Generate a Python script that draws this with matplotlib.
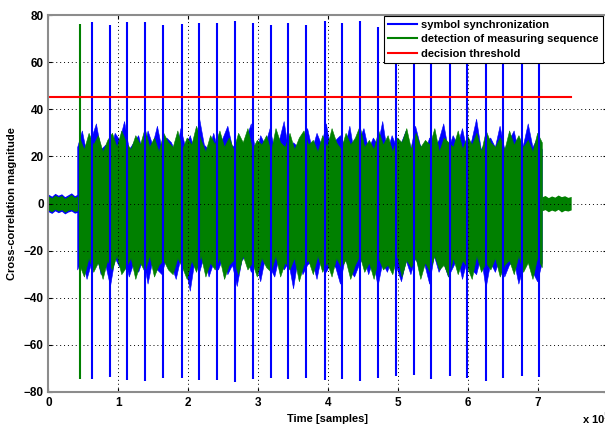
import numpy as np
import matplotlib
matplotlib.use("Agg")
import matplotlib.pyplot as plt

plt.rcParams['font.family'] = ['Liberation Sans', 'DejaVu Sans']

# ---- data (x in units of 1e5 samples) ----
sync_spike_x = [0.623, 0.880, 1.124, 1.382, 1.639, 1.911, 2.155, 2.408, 2.670, 2.923,
                3.181, 3.433, 3.691, 3.954, 4.206, 4.464, 4.722, 4.975, 5.228, 5.480,
                5.744, 5.996, 6.259, 6.511, 6.775, 7.026]
sync_spike_top = [77.2, 75.8, 77.0, 77.2, 75.6, 76.2, 76.5, 76.5, 77.3, 76.5,
                  75.6, 76.5, 75.8, 77.3, 76.5, 77.3, 75.1, 76.5, 77.0, 76.0,
                  76.5, 77.0, 76.0, 76.5, 77.0, 75.5]
sync_spike_bot = [-74.6, -73.8, -75.0, -75.3, -74.2, -74.2, -74.9, -74.9, -75.6, -74.5,
                  -73.9, -74.5, -74.2, -74.9, -74.5, -75.2, -73.9, -73.1, -72.8, -74.5,
                  -73.2, -74.2, -75.3, -74.2, -73.1, -73.5]

meas_spike_x = 0.455
meas_spike_top = 76.2
meas_spike_bot = -74.6

threshold = 45.0
threshold_span = [0.0, 7.48]

# idle noise before / after the frame
pre_span = [0.0, 0.42]
post_span = [7.06, 7.48]
pre_upper = [3.2, 2.4, 3.6, 2.8, 3.4, 2.2, 3.0, 3.8, 2.6, 3.3]
pre_lower = [-2.8, -3.5, -2.4, -3.2, -2.6, -3.7, -2.9, -2.5, -3.4, -3.0]
post_upper = [2.8, 3.4, 2.5, 3.2, 2.7, 3.6, 2.9, 3.3, 2.6, 3.0]
post_lower = [-3.1, -2.6, -3.5, -2.8, -3.3, -2.5, -3.6, -2.9, -3.2, -2.7]

# noise envelope during the frame
band_span = [0.44, 7.06]
green_upper = [28, 23, 30, 25, 29, 22, 27, 30, 24, 31, 26, 23, 29, 25, 32, 24, 28, 22, 30, 26,
               24, 31, 23, 28, 25, 33, 27, 22, 29, 25, 31, 24, 28, 23, 30, 26, 32, 23, 27, 25,
               29, 22, 32, 26, 24, 30, 23, 28, 31, 25, 27, 22, 29, 24, 32, 26, 23, 30, 25, 28,
               33, 24, 27, 23, 31, 25, 29, 22, 28, 26, 32, 23, 30, 24, 27, 25, 32, 22, 28, 26,
               24, 31, 23, 29, 25, 30, 22, 31, 26, 24, 28, 23, 31, 25, 29, 24, 27, 22, 30, 26]
green_lower = [-26, -31, -23, -29, -25, -32, -24, -28, -22, -30, -27, -23, -32, -25, -29, -22, -31, -26, -24, -28,
               -30, -23, -27, -32, -24, -29, -22, -31, -25, -28, -23, -32, -26, -24, -30, -22, -28, -25, -31, -23,
               -27, -29, -22, -31, -25, -28, -23, -33, -26, -24, -30, -22, -29, -25, -31, -23, -27, -24, -32, -26,
               -22, -29, -25, -32, -23, -28, -26, -30, -22, -31, -24, -27, -23, -32, -25, -29, -22, -28, -26, -31,
               -23, -30, -24, -27, -32, -22, -29, -25, -28, -23, -31, -26, -24, -30, -22, -29, -25, -32, -23, -27]
blue_upper = [24, 31, 21, 28, 34, 23, 25, 22, 30, 27, 35, 23, 26, 29, 21, 31, 25, 33, 23, 28,
              26, 21, 32, 24, 29, 22, 36, 25, 23, 30, 22, 28, 33, 24, 26, 23, 28, 34, 21, 29,
              25, 32, 23, 27, 35, 22, 26, 24, 28, 32, 23, 30, 25, 34, 22, 27, 29, 24, 33, 21,
              27, 32, 23, 28, 25, 35, 22, 29, 24, 26, 31, 23, 33, 25, 22, 28, 24, 27, 34, 23,
              29, 25, 32, 22, 27, 36, 23, 26, 28, 24, 33, 23, 27, 31, 22, 25, 34, 24, 28, 23]
blue_lower = [-28, -23, -32, -25, -21, -30, -26, -35, -23, -27, -22, -31, -25, -29, -23, -34, -24, -28, -30, -22,
              -26, -32, -23, -27, -37, -24, -29, -22, -31, -25, -28, -23, -30, -26, -35, -24, -22, -29, -25, -33,
              -23, -27, -31, -22, -28, -25, -36, -23, -30, -26, -24, -32, -22, -29, -25, -27, -34, -23, -28, -31,
              -26, -22, -30, -24, -35, -25, -29, -23, -27, -33, -24, -30, -23, -28, -26, -34, -22, -29, -25, -31,
              -27, -23, -32, -24, -28, -30, -22, -36, -25, -29, -23, -31, -26, -24, -34, -27, -23, -29, -33, -25]

xticks = [0, 1, 2, 3, 4, 5, 6, 7, 8]
yticks = [-80, -60, -40, -20, 0, 20, 40, 60, 80]

BLUE = (0, 0, 1)
GREEN = (0, 0.5, 0)
RED = (1, 0, 0)

fig = plt.figure(figsize=(6.05, 4.30), dpi=100)
ax = fig.add_axes([48.5 / 605, 1 - 392 / 430, 559 / 605, 377 / 430])

# blue (symbol synchronization)
xb = np.linspace(band_span[0] - 0.03, band_span[1], len(blue_upper))
ax.fill_between(xb, blue_lower, blue_upper, color=BLUE, lw=0.4)
xp = np.linspace(pre_span[0], pre_span[1], len(pre_upper))
ax.fill_between(xp, np.array(pre_lower) - 0.7, np.array(pre_upper) + 0.7, color=BLUE, lw=0)
ax.vlines(sync_spike_x, sync_spike_bot, sync_spike_top, color=BLUE, lw=1.5)

# green (detection of measuring sequence)
xg = np.linspace(band_span[0], band_span[1], len(green_upper))
ax.fill_between(xg, green_lower, green_upper, color=GREEN, lw=0.4)
ax.fill_between(xp, pre_lower, pre_upper, color=GREEN, lw=0)
xq = np.linspace(post_span[0], post_span[1], len(post_upper))
ax.fill_between(xq, post_lower, post_upper, color=GREEN, lw=0)
ax.vlines([meas_spike_x], [meas_spike_bot], [meas_spike_top], color=GREEN, lw=1.5)

# threshold
ax.plot(threshold_span, [threshold] * 2, color=RED, lw=1.5)

# legend proxies
h1, = ax.plot([], [], color=BLUE, lw=1.5, label='symbol synchronization')
h2, = ax.plot([], [], color=GREEN, lw=1.5, label='detection of measuring sequence')
h3, = ax.plot([], [], color=RED, lw=1.5, label='decision threshold')
leg = ax.legend(handles=[h1, h2, h3], loc='upper left',
                bbox_to_anchor=(384 / 605, 1 - 16 / 430), bbox_transform=fig.transFigure,
                borderaxespad=0, fancybox=False, framealpha=1, edgecolor='black',
                handlelength=2.6, handletextpad=0.4, borderpad=0.35, labelspacing=0.4,
                prop={'size': 8, 'weight': 'bold'})
leg.get_frame().set_linewidth(0.8)

ax.set_xlim(0, 8)
ax.set_ylim(-80, 80)
ax.set_xticks(xticks)
ax.set_yticks(yticks)
ax.tick_params(direction='in', length=3, top=True, right=True, labelsize=8.5, colors='black')
for lab in ax.get_xticklabels() + ax.get_yticklabels():
    lab.set_fontweight('bold')
ax.grid(True, color='black', linestyle=(0, (1, 3)), lw=0.7)
for sp in ax.spines.values():
    sp.set_color('#8c8c8c')
    sp.set_linewidth(1.5)

ax.set_xlabel('Time [samples]', fontsize=8, fontweight='bold', labelpad=4)
ax.set_ylabel('Cross-correlation magnitude', fontsize=8, fontweight='bold', labelpad=5)
fig.text(582 / 605, 1 - 424 / 430, r'x 10$^{5}$', fontsize=8, fontweight='bold')

fig.savefig('out.png', dpi=100)
